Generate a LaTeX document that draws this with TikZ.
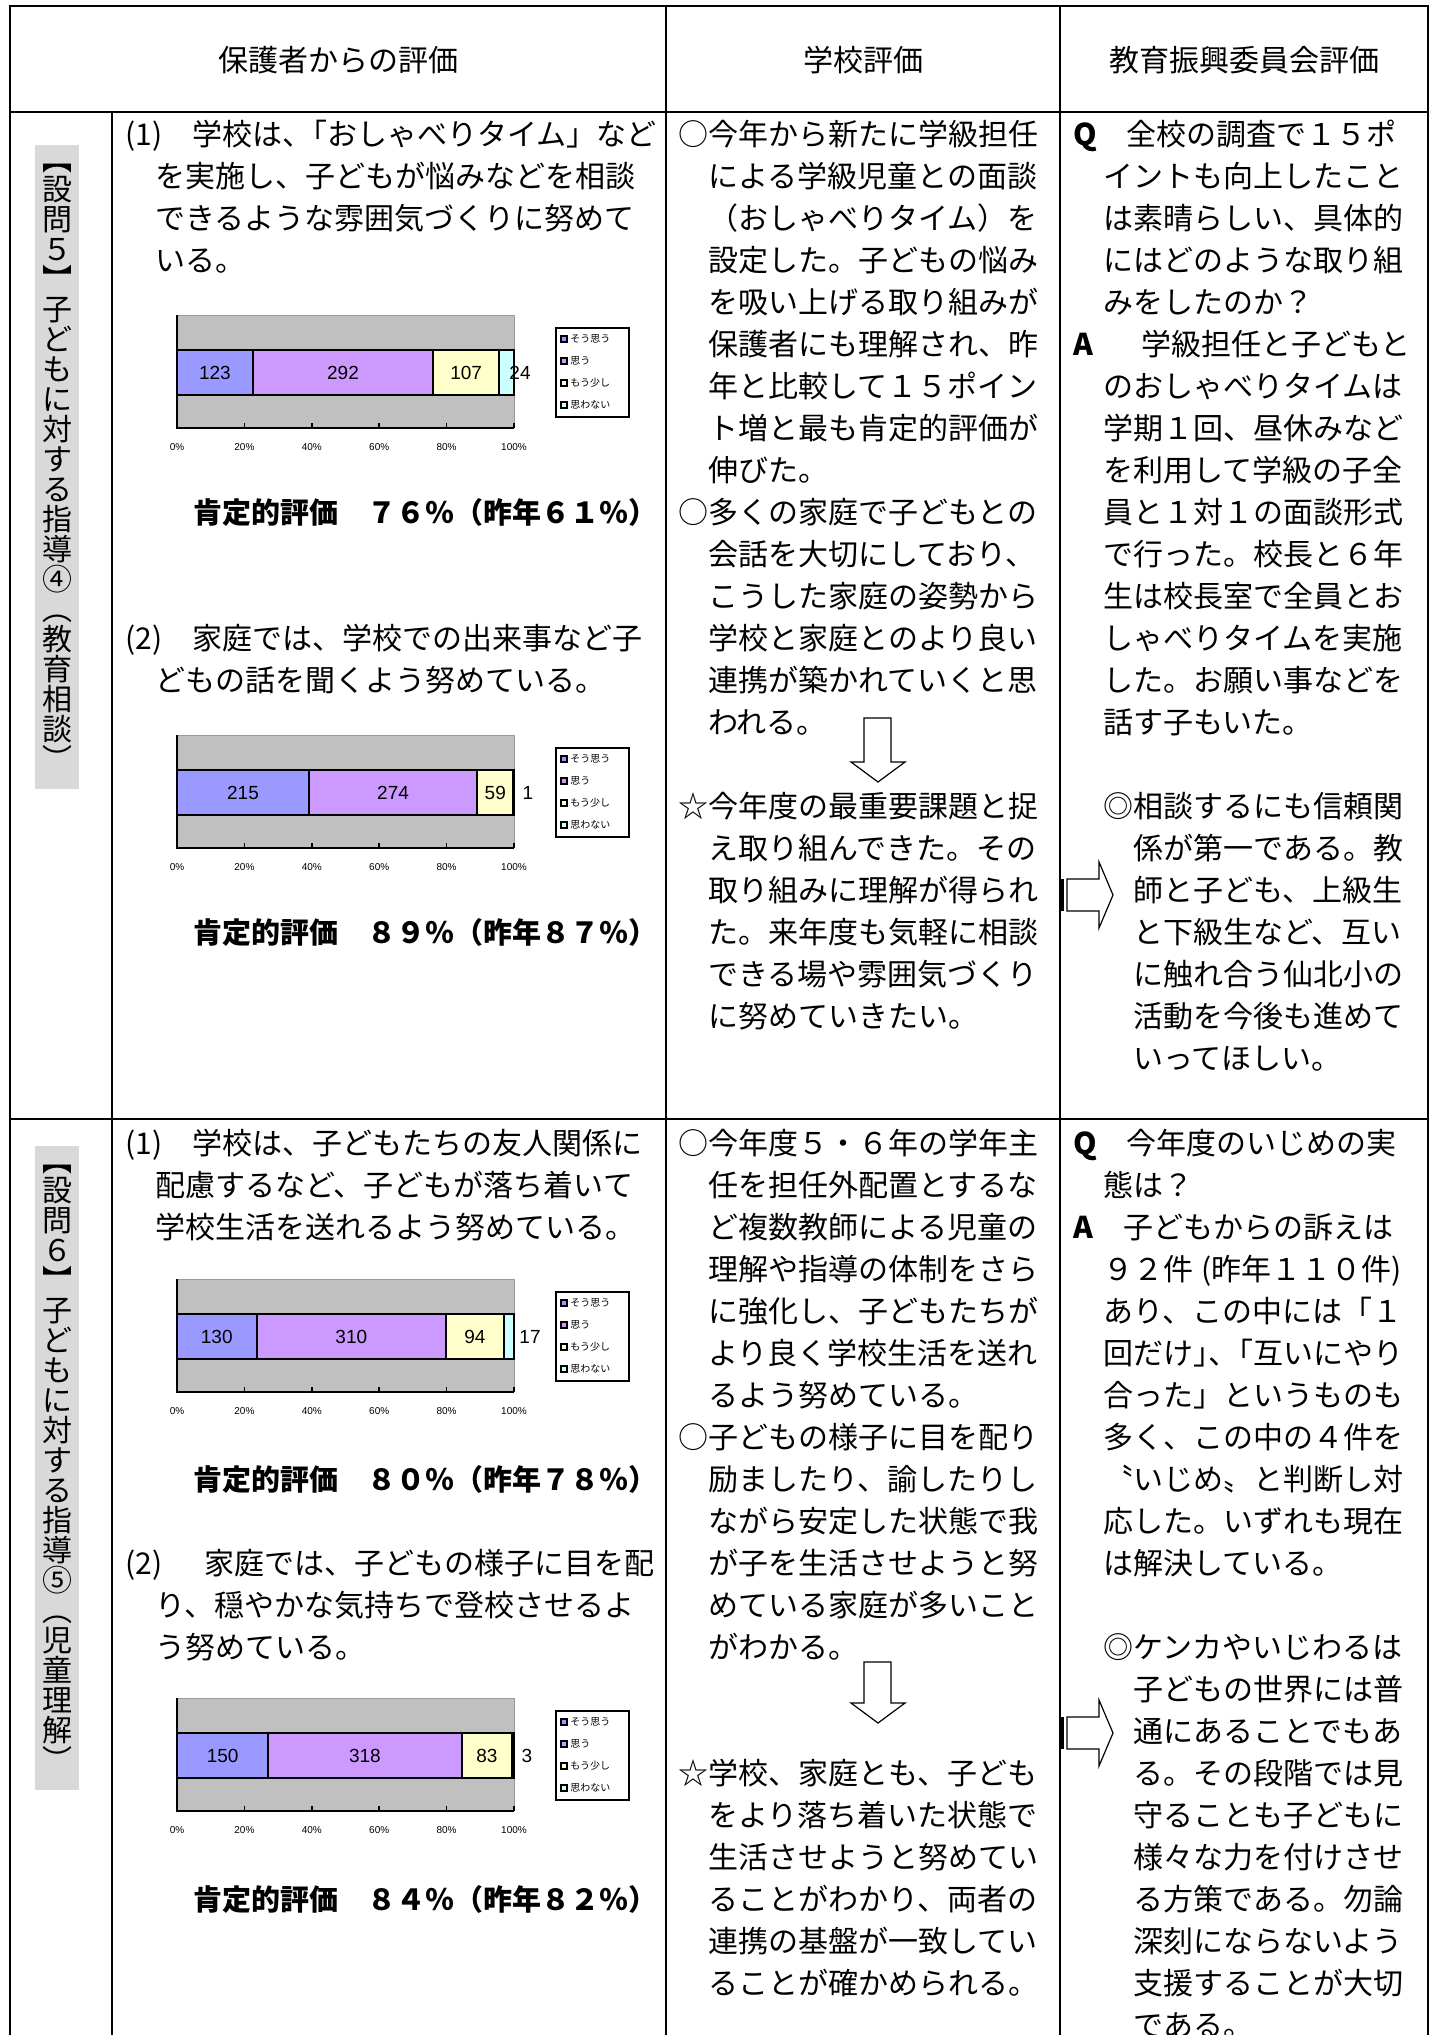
\documentclass[tikz,border=0pt]{standalone}
\usepackage{fontspec}
\setmainfont{Noto Sans CJK JP}
\newfontfamily\arial{Liberation Sans}
\usepackage{xcolor}

\definecolor{sougou}{HTML}{9999FF}
\definecolor{omou}{HTML}{CC99FF}
\definecolor{mousukoshi}{HTML}{FFFFCC}
\definecolor{omowanai}{HTML}{CCFFFF}
\definecolor{plotgray}{HTML}{C0C0C0}
\definecolor{bandgray}{HTML}{D9D9D9}

% one stacked bar chart: name, top of plot area, four counts, x of the last label
\newcommand{\ratingchart}[7]{%
  \pgfmathsetmacro{\tot}{#3+#4+#5+#6}
  \pgfmathsetmacro{\xa}{177+#3/\tot*337}
  \pgfmathsetmacro{\xb}{177+(#3+#4)/\tot*337}
  \pgfmathsetmacro{\xc}{177+(#3+#4+#5)/\tot*337}
  \fill[plotgray] (177,#2) rectangle (514,#2+113);
  \draw[gray!80] (177,#2) -- (514,#2) -- (514,#2+113);
  \draw[seg, fill=sougou] (177,#2+35) rectangle (\xa,#2+80);
  \draw[seg, fill=omou] (\xa,#2+35) rectangle (\xb,#2+80);
  \draw[seg, fill=mousukoshi] (\xb,#2+35) rectangle (\xc,#2+80);
  \draw[seg, fill=omowanai] (\xc,#2+35) rectangle (514,#2+80);
  \draw[line width=1.2pt] (177,#2) -- (177,#2+113) -- (514,#2+113);
  \foreach \k in {1,...,5}
    \draw[line width=0.8pt] ({177+67.4*\k},#2+108) -- ({177+67.4*\k},#2+113);
  \node[barnum] (#1-a) at ({(177+\xa)/2},#2+57.5) {#3};
  \node[barnum] (#1-b) at ({(\xa+\xb)/2},#2+57.5) {#4};
  \node[barnum] (#1-c) at ({(\xb+\xc)/2},#2+57.5) {#5};
  \node[barnum] (#1-d) at (#7,#2+57.5) {#6};
  \foreach \k in {0,...,5}
    \node[axisnum] (#1-x\k) at ({177+67.4*\k},#2+132) {\pgfmathparse{int(20*\k)}\pgfmathresult\%};
  \draw[line width=1pt, fill=white] (556,#2+13) rectangle (629,#2+102);
  \foreach \col/\lbl [count=\j from 0] in {sougou/そう思う, omou/思う, mousukoshi/もう少し, omowanai/思わない} {
    \draw[line width=0.6pt, fill=\col] (561,{#2+21+22*\j}) rectangle (567,{#2+27+22*\j});
    \node[legtext] (#1-l\j) at (570,{#2+24+22*\j}) {\lbl};
  }
}

\begin{document}
\begin{tikzpicture}[x=0.5pt, y=-0.5pt,
  tableline/.style={line width=1.2pt},
  txt/.style={anchor=base west, inner sep=0pt, font=\fontsize{15}{21}\selectfont},
  head/.style={inner sep=0pt, font=\fontsize{15}{21}\selectfont},
  rate/.style={anchor=base, inner sep=0pt, font=\bfseries\fontsize{14.5}{18}\selectfont},
  barnum/.style={inner sep=0pt, font=\arial\fontsize{9.5}{11}\selectfont},
  axisnum/.style={inner sep=0pt, font=\arial\fontsize{5}{6}\selectfont},
  legtext/.style={anchor=west, inner sep=0pt, font=\fontsize{5}{6}\selectfont},
  vlabel/.style={fill=bandgray, align=center, inner sep=0pt, minimum width=22pt, minimum height=322pt, font=\fontsize{15}{15}\selectfont},
  bigarrow/.style={draw, fill=white, line width=0.6pt},
  seg/.style={draw, line width=1pt}]

  \fill[white] (0,0) rectangle (1435,2035);
  \useasboundingbox (0,0) rectangle (1435,2035);

  % table
  \draw[tableline] (10,2035) -- (10,6) -- (1428,6) -- (1428,2035);
  \draw[tableline] (10,112) -- (1428,112);
  \draw[tableline] (10,1119) -- (1428,1119);
  \draw[tableline] (112,112) -- (112,2035);
  \draw[tableline] (666,6) -- (666,2035);
  \draw[tableline] (1060,6) -- (1060,2035);

  \node[head] (hParent) at (338,60) {保護者からの評価};
  \node[head] (hSchool) at (863,60) {学校評価};
  \node[head] (hBoard) at (1244,60) {教育振興委員会評価};

  % side labels
  \node[vlabel] (q5) at (57,467) {︻\\設\\問\\５\\︼\\子\\ど\\も\\に\\対\\す\\る\\指\\導\\④\\︵\\教\\育\\相\\談\\︶};
  \node[vlabel] (q6) at (57,1468) {︻\\設\\問\\６\\︼\\子\\ど\\も\\に\\対\\す\\る\\指\\導\\⑤\\︵\\児\\童\\理\\解\\︶};

  % question 5, parents
  \foreach \ln [count=\i from 0] in {
    (1)　学校は、\hspace{-7.5pt}「おしゃべりタイム」など,
    　を実施し、子どもが悩みなどを相談,
    　できるような雰囲気づくりに努めて,
    　いる。}
    \node[txt] (pa1-\i) at (125,{145+42*\i}) {\ln};
  \ratingchart{c1}{315}{123}{292}{107}{24}{520}
  \node[rate] (rate1) at (425,523) {肯定的評価　７６％（昨年６１％）};
  \foreach \ln [count=\i from 0] in {
    (2)　家庭では、学校での出来事など子,
    　どもの話を聞くよう努めている。}
    \node[txt] (pa2-\i) at (125,{649+42*\i}) {\ln};
  \ratingchart{c2}{735}{215}{274}{59}{1}{528}
  \node[rate] (rate2) at (425,943) {肯定的評価　８９％（昨年８７％）};

  % question 5, school
  \foreach \ln [count=\i from 0] in {
    ○今年から新たに学級担任,
    　による学級児童との面談,
    　（おしゃべりタイム）を,
    　設定した。子どもの悩み,
    　を吸い上げる取り組みが,
    　保護者にも理解され、昨,
    　年と比較して１５ポイン,
    　ト増と最も肯定的評価が,
    　伸びた。,
    ○多くの家庭で子どもとの,
    　会話を大切にしており、,
    　こうした家庭の姿勢から,
    　学校と家庭とのより良い,
    　連携が築かれていくと思,
    　われる。,
    {},
    ☆今年度の最重要課題と捉,
    　え取り組んできた。その,
    　取り組みに理解が得られ,
    　た。来年度も気軽に相談,
    　できる場や雰囲気づくり,
    　に努めていきたい。}
    \node[txt] (sc1-\i) at (678,{145+42*\i}) {\ln};

  % question 5, board
  \foreach \ln [count=\i from 0] in {
    \textbf{Q}　全校の調査で１５ポ,
    　イントも向上したこと,
    　は素晴らしい、具体的,
    　にはどのような取り組,
    　みをしたのか？,
    \textbf{A}　\hspace{9pt}学級担任と子どもと,
    　のおしゃべりタイムは,
    　学期１回、昼休みなど,
    　を利用して学級の子全,
    　員と１対１の面談形式,
    　で行った。校長と６年,
    　生は校長室で全員とお,
    　しゃべりタイムを実施,
    　した。お願い事などを,
    　話す子もいた。,
    {},
    　◎相談するにも信頼関,
    　　係が第一である。教,
    　　師と子ども、上級生,
    　　と下級生など、互い,
    　　に触れ合う仙北小の,
    　　活動を今後も進めて,
    　　いってほしい。}
    \node[txt] (bd1-\i) at (1073,{145+42*\i}) {\ln};

  % question 6, parents
  \foreach \ln [count=\i from 0] in {
    (1)　学校は、子どもたちの友人関係に,
    　配慮するなど、子どもが落ち着いて,
    　学校生活を送れるよう努めている。}
    \node[txt] (pb1-\i) at (125,{1154+42*\i}) {\ln};
  \ratingchart{c3}{1279}{130}{310}{94}{17}{530}
  \node[rate] (rate3) at (425,1490) {肯定的評価　８０％（昨年７８％）};
  \foreach \ln [count=\i from 0] in {
    (2)　\hspace{6pt}家庭では、子どもの様子に目を配,
    　り、穏やかな気持ちで登校させるよ,
    　う努めている。}
    \node[txt] (pb2-\i) at (125,{1574+42*\i}) {\ln};
  \ratingchart{c4}{1698}{150}{318}{83}{3}{527}
  \node[rate] (rate4) at (425,1910) {肯定的評価　８４％（昨年８２％）};

  % question 6, school
  \foreach \ln [count=\i from 0] in {
    ○今年度５・６年の学年主,
    　任を担任外配置とするな,
    　ど複数教師による児童の,
    　理解や指導の体制をさら,
    　に強化し、子どもたちが,
    　より良く学校生活を送れ,
    　るよう努めている。,
    ○子どもの様子に目を配り,
    　励ましたり、諭したりし,
    　ながら安定した状態で我,
    　が子を生活させようと努,
    　めている家庭が多いこと,
    　がわかる。,
    {},
    {},
    ☆学校、家庭とも、子ども,
    　をより落ち着いた状態で,
    　生活させようと努めてい,
    　ることがわかり、両者の,
    　連携の基盤が一致してい,
    　ることが確かめられる。}
    \node[txt] (sc2-\i) at (678,{1154+42*\i}) {\ln};

  % question 6, board
  \foreach \ln [count=\i from 0] in {
    \textbf{Q}　今年度のいじめの実,
    　態は？,
    \textbf{A}　子どもからの訴えは,
    　９２件\hspace{4pt}(昨年１１０件),
    　あり、この中には「１,
    　回だけ」\hspace{-7.5pt}、\hspace{-7.5pt}「互いにやり,
    　合った」というものも,
    　多く、この中の４件を,
    　〝いじめ〟と判断し対,
    　応した。いずれも現在,
    　は解決している。,
    {},
    　◎ケンカやいじわるは,
    　　子どもの世界には普,
    　　通にあることでもあ,
    　　る。その段階では見,
    　　守ることも子どもに,
    　　様々な力を付けさせ,
    　　る方策である。勿論,
    　　深刻にならないよう,
    　　支援することが大切,
    　　である。}
    \node[txt] (bd2-\i) at (1073,{1154+42*\i}) {\ln};

  % block arrows
  \draw[bigarrow] (864,718) -- (891,718) -- (891,762) -- (905,762) -- (878,782) -- (851,762) -- (864,762) -- cycle;
  \draw[bigarrow] (864,1662) -- (891,1662) -- (891,1703) -- (905,1703) -- (878,1723) -- (851,1703) -- (864,1703) -- cycle;
  \draw[bigarrow] (1067,879) -- (1099,879) -- (1099,862) -- (1113,895) -- (1099,928) -- (1099,911) -- (1067,911) -- cycle;
  \fill (1059,879) rectangle (1064,911);
  \draw[bigarrow] (1067,1717) -- (1099,1717) -- (1099,1700) -- (1113,1733) -- (1099,1766) -- (1099,1749) -- (1067,1749) -- cycle;
  \fill (1059,1717) rectangle (1064,1749);
\end{tikzpicture}
\end{document}
